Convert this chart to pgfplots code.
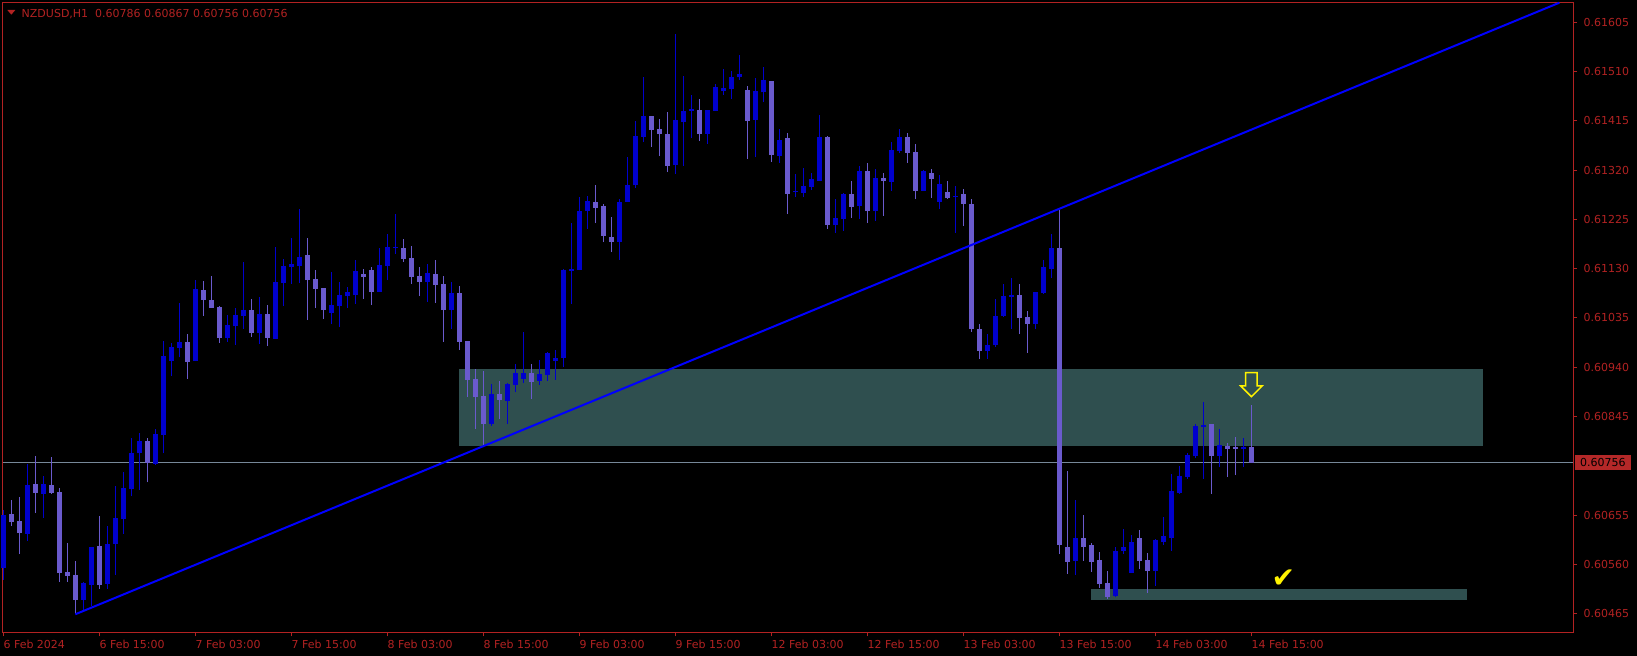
\documentclass[border=0pt]{standalone}
\usepackage{pgfplots}
\pgfplotsset{compat=1.18}
\usepackage{pgfplotstable}
\usepackage{fontspec}
\setmainfont{DejaVu Sans}
\usetikzlibrary{shapes.arrows}
\definecolor{bullc}{RGB}{0,0,205}
\definecolor{bearc}{RGB}{106,90,205}
\definecolor{zonec}{RGB}{47,79,79}
\definecolor{framec}{RGB}{178,34,34}
\definecolor{boxc}{RGB}{180,40,40}
\definecolor{pricec}{RGB}{119,136,153}
\definecolor{trendc}{RGB}{0,0,255}
\newcommand\lab{\fontsize{11}{13}\selectfont}

\pgfplotstableread{
i o h l c
0 0.60554 0.60665 0.60531 0.60655
1 0.60657 0.60684 0.60635 0.60641
2 0.60644 0.60690 0.60580 0.60621
3 0.60619 0.60754 0.60605 0.60713
4 0.60715 0.60769 0.60660 0.60698
5 0.60696 0.60731 0.60650 0.60715
6 0.60713 0.60767 0.60696 0.60698
7 0.60700 0.60707 0.60527 0.60544
8 0.60546 0.60601 0.60527 0.60538
9 0.60540 0.60567 0.60464 0.60492
10 0.60492 0.60526 0.60471 0.60524
11 0.60521 0.60594 0.60479 0.60594
12 0.60596 0.60653 0.60513 0.60521
13 0.60523 0.60634 0.60513 0.60600
14 0.60600 0.60711 0.60540 0.60650
15 0.60648 0.60738 0.60619 0.60707
16 0.60705 0.60804 0.60691 0.60775
17 0.60774 0.60813 0.60704 0.60798
18 0.60798 0.60804 0.60718 0.60756
19 0.60754 0.60821 0.60752 0.60811
20 0.60810 0.60991 0.60774 0.60962
21 0.60952 0.60987 0.60923 0.60979
22 0.60978 0.61064 0.60959 0.60989
23 0.60989 0.61004 0.60918 0.60950
24 0.60952 0.61108 0.60952 0.61091
25 0.61089 0.61106 0.61039 0.61070
26 0.61070 0.61116 0.61054 0.61054
27 0.61056 0.61058 0.60987 0.60996
28 0.60996 0.61041 0.60989 0.61022
29 0.61020 0.61054 0.60983 0.61041
30 0.61039 0.61143 0.61014 0.61050
31 0.61050 0.61072 0.60998 0.61006
32 0.61006 0.61075 0.60985 0.61043
33 0.61043 0.61060 0.60981 0.60996
34 0.60995 0.61172 0.60995 0.61104
35 0.61102 0.61149 0.61058 0.61135
36 0.61133 0.61189 0.61101 0.61139
37 0.61135 0.61245 0.61102 0.61153
38 0.61156 0.61189 0.61031 0.61108
39 0.61110 0.61127 0.61054 0.61091
40 0.61093 0.61093 0.61033 0.61050
41 0.61045 0.61124 0.61023 0.61060
42 0.61058 0.61104 0.61018 0.61079
43 0.61077 0.61095 0.61054 0.61085
44 0.61079 0.61147 0.61062 0.61126
45 0.61120 0.61129 0.61072 0.61114
46 0.61127 0.61133 0.61060 0.61085
47 0.61085 0.61170 0.61085 0.61137
48 0.61135 0.61197 0.61108 0.61172
49 0.61170 0.61235 0.61158 0.61172
50 0.61170 0.61187 0.61143 0.61149
51 0.61151 0.61174 0.61101 0.61114
52 0.61116 0.61133 0.61077 0.61104
53 0.61104 0.61139 0.61066 0.61122
54 0.61120 0.61147 0.61064 0.61099
55 0.61101 0.61116 0.60989 0.61050
56 0.61050 0.61104 0.61014 0.61083
57 0.61083 0.61097 0.60973 0.60989
58 0.60991 0.60991 0.60883 0.60916
59 0.60917 0.60937 0.60821 0.60883
60 0.60885 0.60933 0.60786 0.60831
61 0.60831 0.60908 0.60827 0.60889
62 0.60889 0.60914 0.60840 0.60877
63 0.60875 0.60910 0.60831 0.60908
64 0.60906 0.60946 0.60892 0.60929
65 0.60917 0.61008 0.60910 0.60929
66 0.60929 0.60946 0.60879 0.60912
67 0.60914 0.60954 0.60906 0.60927
68 0.60925 0.60969 0.60914 0.60968
69 0.60952 0.60973 0.60916 0.60958
70 0.60958 0.61129 0.60941 0.61127
71 0.61126 0.61218 0.61062 0.61129
72 0.61127 0.61268 0.61127 0.61241
73 0.61241 0.61270 0.61207 0.61260
74 0.61259 0.61291 0.61218 0.61247
75 0.61251 0.61255 0.61181 0.61193
76 0.61191 0.61230 0.61162 0.61181
77 0.61181 0.61264 0.61147 0.61259
78 0.61259 0.61345 0.61259 0.61291
79 0.61291 0.61415 0.61286 0.61386
80 0.61384 0.61499 0.61374 0.61424
81 0.61424 0.61424 0.61365 0.61397
82 0.61399 0.61418 0.61347 0.61390
83 0.61390 0.61432 0.61316 0.61328
84 0.61330 0.61582 0.61312 0.61417
85 0.61413 0.61501 0.61328 0.61434
86 0.61434 0.61465 0.61382 0.61438
87 0.61436 0.61457 0.61376 0.61390
88 0.61390 0.61436 0.61370 0.61436
89 0.61434 0.61486 0.61434 0.61480
90 0.61472 0.61515 0.61465 0.61478
91 0.61476 0.61511 0.61457 0.61499
92 0.61499 0.61542 0.61494 0.61505
93 0.61474 0.61482 0.61341 0.61415
94 0.61417 0.61497 0.61345 0.61472
95 0.61470 0.61519 0.61451 0.61494
96 0.61492 0.61492 0.61336 0.61349
97 0.61347 0.61399 0.61334 0.61378
98 0.61382 0.61391 0.61235 0.61274
99 0.61278 0.61312 0.61268 0.61280
100 0.61276 0.61324 0.61268 0.61289
101 0.61287 0.61314 0.61282 0.61303
102 0.61299 0.61426 0.61299 0.61384
103 0.61384 0.61386 0.61207 0.61214
104 0.61214 0.61264 0.61199 0.61228
105 0.61226 0.61276 0.61203 0.61274
106 0.61274 0.61299 0.61228 0.61249
107 0.61251 0.61328 0.61226 0.61318
108 0.61318 0.61334 0.61218 0.61241
109 0.61241 0.61322 0.61222 0.61305
110 0.61305 0.61314 0.61232 0.61299
111 0.61297 0.61374 0.61280 0.61359
112 0.61357 0.61399 0.61353 0.61384
113 0.61384 0.61391 0.61334 0.61353
114 0.61355 0.61370 0.61264 0.61280
115 0.61280 0.61320 0.61280 0.61318
116 0.61314 0.61322 0.61266 0.61303
117 0.61259 0.61311 0.61245 0.61293
118 0.61278 0.61299 0.61264 0.61266
119 0.61268 0.61289 0.61199 0.61270
120 0.61274 0.61284 0.61212 0.61255
121 0.61255 0.61264 0.61008 0.61014
122 0.61014 0.61023 0.60956 0.60971
123 0.60971 0.61004 0.60956 0.60983
124 0.60983 0.61072 0.60979 0.61039
125 0.61039 0.61101 0.61037 0.61077
126 0.61075 0.61112 0.61014 0.61079
127 0.61079 0.61101 0.61004 0.61035
128 0.61037 0.61048 0.60968 0.61023
129 0.61023 0.61085 0.61014 0.61085
130 0.61083 0.61147 0.61081 0.61133
131 0.61129 0.61197 0.61112 0.61170
132 0.61170 0.61243 0.60580 0.60598
133 0.60594 0.60740 0.60542 0.60565
134 0.60567 0.60684 0.60540 0.60611
135 0.60611 0.60655 0.60567 0.60594
136 0.60598 0.60601 0.60546 0.60565
137 0.60569 0.60584 0.60515 0.60522
138 0.60524 0.60547 0.60494 0.60497
139 0.60499 0.60594 0.60497 0.60586
140 0.60586 0.60628 0.60580 0.60594
141 0.60544 0.60617 0.60544 0.60603
142 0.60611 0.60626 0.60551 0.60567
143 0.60569 0.60582 0.60505 0.60547
144 0.60547 0.60609 0.60519 0.60607
145 0.60603 0.60652 0.60598 0.60615
146 0.60611 0.60734 0.60586 0.60702
147 0.60698 0.60750 0.60696 0.60731
148 0.60729 0.60775 0.60725 0.60771
149 0.60769 0.60831 0.60765 0.60827
150 0.60825 0.60873 0.60725 0.60829
151 0.60831 0.60831 0.60696 0.60769
152 0.60769 0.60821 0.60748 0.60790
153 0.60788 0.60794 0.60729 0.60783
154 0.60786 0.60806 0.60732 0.60783
155 0.60783 0.60804 0.60748 0.60786
156 0.60786 0.60867 0.60756 0.60756
}\candles

\begin{document}
\begin{tikzpicture}[x=1pt,y=1pt]
\fill[black] (0,0) rectangle (1637,656);
\fill[framec] (7.3,646) -- (15.3,646) -- (11.3,641.3) -- cycle;
\node[anchor=base west, inner sep=0pt, text=framec, font=\lab] at (21.5,638.7) {NZDUSD,H1\ \ 0.60786 0.60867 0.60756 0.60756};
\begin{axis}[
  at={(2.5pt,23.7pt)}, anchor=south west,
  scale only axis, width=1570.5pt, height=629.6pt,
  xmin=-0.1, xmax=196.2, ymin=0.604293, ymax=0.616426,
  clip=false,
  axis line style={draw=framec, line width=1pt},
  tick align=outside, major tick length=4pt,
  tick style={draw=framec, line width=1pt},
  xtick pos=left, ytick pos=right, yticklabel pos=right,
  scaled y ticks=false, scaled x ticks=false,
  xtick={0,12,24,36,48,60,72,84,96,108,120,132,144,156},
  xticklabels={6 Feb 2024,6 Feb 15:00,7 Feb 03:00,7 Feb 15:00,8 Feb 03:00,8 Feb 15:00,9 Feb 03:00,9 Feb 15:00,12 Feb 03:00,12 Feb 15:00,13 Feb 03:00,13 Feb 15:00,14 Feb 03:00,14 Feb 15:00},
  ytick={0.60465,0.60560,0.60655,0.60845,0.60940,0.61035,0.61130,0.61225,0.61320,0.61415,0.61510,0.61605},
  yticklabels={0.60465,0.60560,0.60655,0.60845,0.60940,0.61035,0.61130,0.61225,0.61320,0.61415,0.61510,0.61605},
  yticklabel style={font=\lab, text=framec, anchor=west, inner sep=0pt, xshift=6.5pt},
  xticklabel style={font=\lab, text=framec, anchor=north west, inner sep=0pt, yshift=-3.2pt},
]
% zones
\addplot[fill=zonec, draw=none] coordinates {(57,0.60937) (185,0.60937) (185,0.60788) (57,0.60788)} -- cycle;
\addplot[fill=zonec, draw=none] coordinates {(136,0.60513) (183,0.60513) (183,0.60492) (136,0.60492)} -- cycle;
% current price line
\addplot[pricec, line width=1pt] coordinates {(-0.1,0.60756) (196.2,0.60756)};
% wicks
\addplot[draw=none, mark=none, restrict expr to domain={\thisrow{c}-\thisrow{o}}{0:1},
  error bars/.cd, y dir=plus, y explicit, error mark=none, error bar style={draw=bullc, line width=1pt}]
  table[x=i, y=l, y error plus expr={\thisrow{h}-\thisrow{l}}] {\candles};
\addplot[draw=none, mark=none, restrict expr to domain={\thisrow{c}-\thisrow{o}}{-1:0},
  error bars/.cd, y dir=plus, y explicit, error mark=none, error bar style={draw=bearc, line width=1pt}]
  table[x=i, y=l, y error plus expr={\thisrow{h}-\thisrow{l}}] {\candles};
% bodies
\addplot[draw=none, mark=none, restrict expr to domain={\thisrow{c}-\thisrow{o}}{0:1},
  error bars/.cd, y dir=plus, y explicit, error mark=none, error bar style={draw=bullc, line width=5pt}]
  table[x=i, y=o, y error plus expr={max(\thisrow{c}-\thisrow{o},0.00002)}] {\candles};
\addplot[draw=none, mark=none, restrict expr to domain={\thisrow{c}-\thisrow{o}}{-1:0},
  error bars/.cd, y dir=plus, y explicit, error mark=none, error bar style={draw=bearc, line width=5pt}]
  table[x=i, y=c, y error plus expr={max(\thisrow{o}-\thisrow{c},0.00002)}] {\candles};
% trend line
\addplot[trendc, line width=2pt] coordinates {(9,0.60464) (194.5,0.616426)};
% annotations
\node[single arrow, draw=yellow, line width=1.5pt, shape border rotate=270, minimum height=24pt, inner sep=5pt, single arrow head extend=5pt] at (axis cs:156,0.60912) {};
\node[text=yellow, font=\fontsize{28}{30}\selectfont, inner sep=0pt] at (axis cs:160,0.60533) {✔};
\node[fill=boxc, text=black, font=\lab, anchor=west, inner xsep=5.4pt, inner ysep=3.5pt, text height=8pt, text depth=0pt, xshift=1.5pt] at (axis cs:196.2,0.60756) {0.60756};
\end{axis}
\end{tikzpicture}
\end{document}
